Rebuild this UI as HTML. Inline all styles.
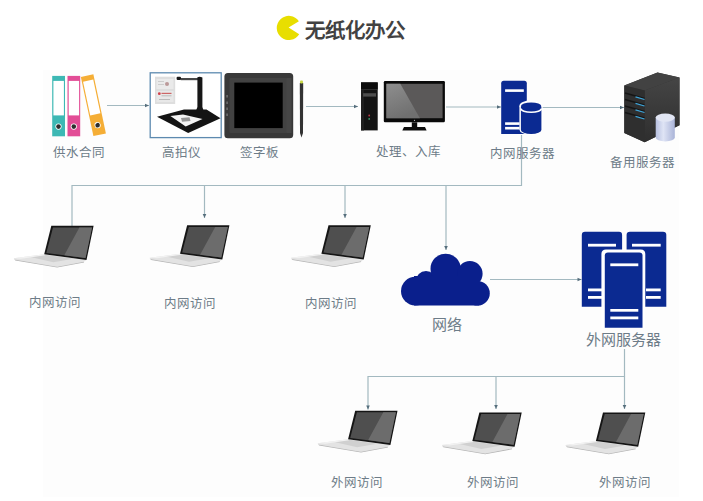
<!DOCTYPE html>
<html lang="zh-CN">
<head>
<meta charset="utf-8">
<style>
html,body{margin:0;padding:0;background:#ffffff;}
body{width:703px;height:501px;position:relative;overflow:hidden;font-family:"Liberation Serif",serif;}
svg{position:absolute;left:0;top:0;}
.t{position:absolute;width:120px;text-align:center;white-space:nowrap;color:#6d7c88;font-size:12.5px;line-height:12.5px;}
.title{position:absolute;left:304.5px;top:19px;font-family:"Liberation Sans",sans-serif;font-weight:bold;font-size:20.5px;line-height:24px;color:#424242;white-space:nowrap;}
</style>
</head>
<body>
<svg width="703" height="501" viewBox="0 0 703 501">
<defs>
  <marker id="ah" markerWidth="6" markerHeight="6" refX="4.5" refY="3" orient="auto" markerUnits="userSpaceOnUse">
    <path d="M0.5,1.2 L4.5,3 L0.5,4.8 z" fill="#566e7c"/>
  </marker>
  <linearGradient id="scr" x1="0" y1="0" x2="1" y2="1">
    <stop offset="0" stop-color="#4a4a4a"/>
    <stop offset="0.55" stop-color="#555"/>
    <stop offset="0.56" stop-color="#777"/>
    <stop offset="1" stop-color="#8a8a8a"/>
  </linearGradient>
  <linearGradient id="cyl" x1="0" y1="0" x2="1" y2="0">
    <stop offset="0" stop-color="#b7c0e0"/>
    <stop offset="0.4" stop-color="#dfe4f5"/>
    <stop offset="1" stop-color="#aab4d8"/>
  </linearGradient>
  <g id="laptop">
    <path d="M-37.5,32.5 L-7.1,28.5 L35.2,34.3 L32.5,36 L5.8,41 L-37,33.7 Z" fill="#e3e3e3"/>
    <path d="M-37,33.7 L5.8,41 L32.5,36 L32.8,36.8 L5.8,41.8 L-36,34.8 Z" fill="#b4b4b4"/>
    <path d="M-22,31 L-6,29 L22,33 L2,36.5 Z" fill="#d0d0d0"/>
    <path d="M-37.5,32.5 L-7.1,28.5 L-6,29.5 L-30,33 Z" fill="#f2f2f2"/>
    <path d="M0,0 L42.3,0 L35.2,34.3 L-7.1,28.5 Z" fill="#151515"/>
    <path d="M1.7,1.6 L40.7,1.6 L34.2,32.2 L-5,27.2 Z" fill="#4f4f4f"/>
    <path d="M28.1,1.6 L40.7,1.6 L34.2,32.2 L13,29.4 Z" fill="#6c6c6c"/>
  </g>
</defs>

<!-- faint background panel -->
<rect x="43" y="70" width="636" height="427" fill="#fdfdfd"/>

<!-- pacman logo -->
<path d="M298.9,21.2 A12.1,12.1 0 1 0 299.2,34.2 L288.6,27.6 Z" fill="#e8de00"/>

<!-- ===== connectors ===== -->
<g stroke="#a3b9c0" stroke-width="1.2" fill="none">
  <line x1="107" y1="105.5" x2="149" y2="105.5" marker-end="url(#ah)"/>
  <line x1="306" y1="106.5" x2="358" y2="106.5" marker-end="url(#ah)"/>
  <line x1="446" y1="107" x2="501" y2="107" marker-end="url(#ah)"/>
  <line x1="542" y1="107.5" x2="624" y2="107.5" marker-end="url(#ah)"/>
  <polyline points="521.5,135 521.5,185.5 72,185.5 72,226"/>
  <line x1="204.5" y1="185.5" x2="204.5" y2="218" marker-end="url(#ah)"/>
  <line x1="345" y1="185.5" x2="345" y2="218" marker-end="url(#ah)"/>
  <line x1="446" y1="185.5" x2="446" y2="250" marker-end="url(#ah)"/>
  <line x1="490" y1="279.5" x2="581.5" y2="279.5" marker-end="url(#ah)"/>
  <polyline points="624.5,349 624.5,376.5 368,376.5 368,409.5" marker-end="url(#ah)"/>
  <line x1="496" y1="376.5" x2="496" y2="409" marker-end="url(#ah)"/>
  <line x1="624.5" y1="376.5" x2="624.5" y2="409" marker-end="url(#ah)"/>
</g>

<!-- ===== binders ===== -->
<g>
  <rect x="52.2" y="75.9" width="12.8" height="60.4" fill="#3db8b4"/>
  <rect x="53.4" y="80.9" width="10.5" height="34.5" fill="#ffffff"/>
  <circle cx="58.5" cy="126.6" r="3.1" fill="#fff"/>
  <circle cx="58.5" cy="126.6" r="2.3" fill="#2e2e2e"/>
  <rect x="67.5" y="75.9" width="12.7" height="60.4" fill="#e24d96"/>
  <rect x="68.7" y="80.9" width="10.4" height="34.5" fill="#ffffff"/>
  <circle cx="73.8" cy="126.6" r="3.1" fill="#fff"/>
  <circle cx="73.8" cy="126.6" r="2.3" fill="#2e2e2e"/>
  <g transform="rotate(-12 93.4 105.3)">
    <rect x="87" y="75" width="12.8" height="60.4" fill="#f5ae36"/>
    <rect x="88.2" y="80" width="10.4" height="34.5" fill="#ffffff"/>
    <circle cx="93.4" cy="125.6" r="3.1" fill="#fff"/>
    <circle cx="93.4" cy="125.6" r="2.3" fill="#2e2e2e"/>
  </g>
</g>

<!-- ===== scanner ===== -->
<g>
  <rect x="150.2" y="72.8" width="71" height="64.8" fill="#fff" stroke="#5d8ab0" stroke-width="1.3"/>
  <rect x="155" y="76.7" width="20.2" height="27.3" fill="#dedede"/>
  <rect x="156.5" y="79" width="17" height="10" fill="#eaeaea"/>
  <rect x="156.5" y="91" width="17" height="11" fill="#e8e8e8"/>
  <circle cx="167" cy="84" r="2" fill="#b99"/>
  <rect x="158" y="81" width="6" height="1" fill="#ccc"/>
  <rect x="158" y="84" width="6" height="1" fill="#ccc"/>
  <circle cx="159.3" cy="93.7" r="1.4" fill="#d2404a"/>
  <rect x="161.5" y="92.8" width="10" height="1.2" fill="#c66"/>
  <rect x="161.5" y="95.3" width="10" height="1" fill="#bbb"/>
  <rect x="159" y="99" width="11" height="1" fill="#bbb"/>
  <path d="M180.8,78 L198,78 L198,80.2 L180.8,80.2 Z" fill="#484848"/>
  <rect x="176.6" y="76.8" width="4.4" height="3.2" rx="1" fill="#1a1a1a"/>
  <path d="M197.4,77.2 Q200,76.3 202.4,77.5 L202.4,107 L204,112 L195.5,112 L197.4,107 Z" fill="#161616"/>
  <path d="M157,116.8 L184,109.5 L206.5,109.5 L220.5,118.2 L188.2,133 Z" fill="#141414"/>
  <path d="M170.4,116.1 L183,114.4 L202.5,118.9 L185.7,126.6 Z" fill="#f5f5f5"/>
  <path d="M181,118 L189.5,117.3 L190.5,121 L182,121.7 Z" fill="#999"/>
</g>

<!-- ===== signature tablet ===== -->
<g>
  <rect x="224.4" y="73" width="68.8" height="65.3" rx="3.5" fill="#383838"/>
  <rect x="229.5" y="78" width="57.5" height="55" rx="1" fill="#424242"/>
  <rect x="286.5" y="78" width="5" height="55" fill="#464646"/>
  <rect x="234.3" y="82.6" width="48.4" height="45.5" fill="#000"/>
  <rect x="226.2" y="95" width="1.8" height="2.5" fill="#666"/>
  <rect x="226.2" y="101.5" width="1.8" height="2.5" fill="#666"/>
  <rect x="226.2" y="107.5" width="1.8" height="2.5" fill="#666"/>
  <rect x="226.2" y="113.5" width="1.8" height="2.5" fill="#666"/>
  <path d="M299.8,83 L303.2,83 L303,133 L301.5,137.5 L300,133 Z" fill="#333"/>
  <rect x="300" y="80.5" width="3" height="3" rx="1" fill="#c8d846"/>
</g>

<!-- ===== desktop PC ===== -->
<g>
  <rect x="361" y="82.4" width="16.7" height="48" fill="#141414"/>
  <rect x="361" y="82.4" width="16.7" height="6.6" fill="#0c0c0c"/>
  <rect x="361" y="89" width="16.7" height="0.7" fill="#3a3a3a"/>
  <rect x="361" y="89.7" width="3" height="40.7" fill="#1f1f1f"/>
  <rect x="363.1" y="93.2" width="12.9" height="3.4" fill="#4e4e4e"/>
  <circle cx="369.2" cy="115.5" r="0.9" fill="#c03a4a"/>
  <circle cx="369.2" cy="118.9" r="0.9" fill="#3aa070"/>
  <rect x="383.8" y="81.1" width="61.1" height="41.2" rx="1.2" fill="#0a0a0a"/>
  <rect x="386.4" y="83.8" width="56.2" height="34.4" fill="#5b5959"/>
  <linearGradient id="mhl" x1="0" y1="0" x2="0.4" y2="1"><stop offset="0" stop-color="#8e8e8e"/><stop offset="1" stop-color="#707070"/></linearGradient>
  <path d="M386.4,83.8 L400.3,83.8 L419.9,118.2 L386.4,118.2 Z" fill="url(#mhl)"/>
  <circle cx="414.5" cy="120.3" r="0.6" fill="#ccc"/>
  <rect x="411.8" y="122.3" width="5.4" height="4.9" fill="#0d0d0d"/>
  <path d="M404,127 L425,127 L426.6,130.4 L402.3,130.4 Z" fill="#0d0d0d"/>
</g>

<!-- ===== intranet server ===== -->
<g>
  <path d="M501.2,134 L501.2,83.3 Q501.2,80.8 503.7,80.8 L524.3,80.8 Q526.8,80.8 526.8,83.3 L526.8,134 Z" fill="#0b2a92"/>
  <rect x="505.1" y="89.3" width="18.7" height="2.6" fill="#fff"/>
  <rect x="505.1" y="122.3" width="14.5" height="2.6" fill="#fff"/>
  <rect x="505.1" y="126.9" width="14.5" height="2.6" fill="#fff"/>
  <path d="M519.4,106 L519.4,129.5 A11.65,5.4 0 0 0 542.7,129.5 L542.7,106 Z" fill="#fff"/>
  <ellipse cx="531.05" cy="105.8" rx="11.65" ry="5.5" fill="#fff"/>
  <path d="M520.9,107 L520.9,130 A10.25,4 0 0 0 541.4,130 L541.4,107 Z" fill="#0b2a92"/>
  <ellipse cx="531.15" cy="106.3" rx="10.25" ry="3.8" fill="#0b2a92"/>
  <path d="M520.9,108.5 A10.25,3.8 0 0 0 541.4,108.5" fill="none" stroke="#fff" stroke-width="1.6"/>
</g>

<!-- ===== backup server ===== -->
<g>
  <linearGradient id="rf" x1="0" y1="0" x2="0" y2="1">
    <stop offset="0" stop-color="#454545"/>
    <stop offset="1" stop-color="#2e2e2e"/>
  </linearGradient>
  <path d="M624.3,85.5 L657.5,72.6 L679.5,77.6 L679.5,125.3 L644.7,142.2 L624.3,132.9 Z" fill="#333"/>
  <path d="M624.3,85.5 L657.5,72.6 L679.5,77.6 L644.7,90.5 Z" fill="#424242"/>
  <path d="M644.7,90.5 L679.5,77.6 L679.5,125.3 L644.7,142.2 Z" fill="url(#rf)"/>
  <path d="M624.3,85.5 L644.7,90.5 L644.7,142.2 L624.3,132.9 Z" fill="#2f2f2f"/>
  <g stroke="#151515" stroke-width="1.4">
    <line x1="625" y1="93" x2="644.5" y2="98.5"/>
    <line x1="625" y1="99.5" x2="644.5" y2="105"/>
    <line x1="625" y1="106" x2="644.5" y2="111.5"/>
    <line x1="625" y1="112.5" x2="644.5" y2="118"/>
  </g>
  <g stroke="#3fa4d8" stroke-width="1.3">
    <line x1="635.5" y1="96.9" x2="644.5" y2="99.5"/>
    <line x1="635.5" y1="103.4" x2="644.5" y2="106"/>
    <line x1="635.5" y1="109.9" x2="644.5" y2="112.5"/>
    <line x1="635.5" y1="116.4" x2="644.5" y2="119"/>
  </g>
  <path d="M655.7,117.6 L655.7,137.6 A9.55,3.8 0 0 0 674.8,137.6 L674.8,117.6 Z" fill="url(#cyl)"/>
  <ellipse cx="665.25" cy="117.6" rx="9.55" ry="4.2" fill="#e2e6f4"/>
</g>

<!-- ===== laptops ===== -->
<use href="#laptop" x="51.3" y="225.8"/>
<use href="#laptop" x="187.1" y="225.3"/>
<use href="#laptop" x="328.5" y="225.3"/>
<use href="#laptop" x="355.2" y="410.7"/>
<use href="#laptop" x="479.4" y="412.5"/>
<use href="#laptop" x="603" y="412.5"/>

<!-- ===== cloud ===== -->
<g fill="#0a1f8c">
  <circle cx="415.4" cy="291.1" r="14.4"/>
  <circle cx="426" cy="281.3" r="10.2"/>
  <circle cx="445.6" cy="268.8" r="15.1"/>
  <circle cx="469.9" cy="273.8" r="12.7"/>
  <circle cx="477.5" cy="293.2" r="12.3"/>
  <rect x="414" y="276" width="65" height="29.5"/>
</g>

<!-- ===== external servers ===== -->
<g>
  <path d="M581.8,306.7 L581.8,235 Q581.8,231.7 585,231.7 L619,231.7 Q622.1,231.7 622.1,235 L622.1,306.7 Z" fill="#0b2a91"/>
  <path d="M626.6,306.7 L626.6,235 Q626.6,231.7 630,231.7 L663,231.7 Q666.3,231.7 666.3,235 L666.3,306.7 Z" fill="#0b2a91"/>
  <rect x="588" y="243.8" width="28" height="2.8" fill="#fff"/>
  <rect x="588" y="288.5" width="14" height="2.8" fill="#fff"/>
  <rect x="588" y="296" width="14" height="2.8" fill="#fff"/>
  <rect x="632" y="243.8" width="28.7" height="2.8" fill="#fff"/>
  <rect x="646" y="288.5" width="14.7" height="2.8" fill="#fff"/>
  <rect x="646" y="296" width="14.7" height="2.8" fill="#fff"/>
  <path d="M601.4,327.7 L601.4,254 Q601.4,249.4 606,249.4 L640.7,249.4 Q645.3,249.4 645.3,254 L645.3,327.7 Z" fill="#fff"/>
  <path d="M604.8,327.7 L604.8,255.5 Q604.8,252.5 608,252.5 L639.3,252.5 Q642.5,252.5 642.5,255.5 L642.5,327.7 Z" fill="#0b2a91"/>
  <rect x="610.3" y="263.4" width="28" height="2.8" fill="#fff"/>
  <rect x="610.3" y="309" width="28" height="2.7" fill="#fff"/>
  <rect x="610.3" y="316.5" width="28" height="2.8" fill="#fff"/>
</g>
</svg>

<div class="title">无纸化办公</div>

<div class="t" style="left:19.00px;top:146.6px;">供水合同</div>
<div class="t" style="left:121.75px;top:146.7px;">高拍仪</div>
<div class="t" style="left:199.50px;top:146.7px;">签字板</div>
<div class="t" style="left:348.10px;top:146.3px;">处理、入库</div>
<div class="t" style="left:462.40px;top:147.6px;">内网服务器</div>
<div class="t" style="left:582.65px;top:156.8px;">备用服务器</div>
<div class="t" style="left:-5.15px;top:297.3px;">内网访问</div>
<div class="t" style="left:130.00px;top:297.8px;">内网访问</div>
<div class="t" style="left:270.85px;top:297.8px;">内网访问</div>
<div class="t" style="left:387.40px;top:318.2px;font-size:15px;line-height:15px;">网络</div>
<div class="t" style="left:563.65px;top:332.9px;font-size:15px;line-height:15px;">外网服务器</div>
<div class="t" style="left:296.95px;top:476.7px;">外网访问</div>
<div class="t" style="left:432.70px;top:476.9px;">外网访问</div>
<div class="t" style="left:564.75px;top:476.9px;">外网访问</div>
</body>
</html>
